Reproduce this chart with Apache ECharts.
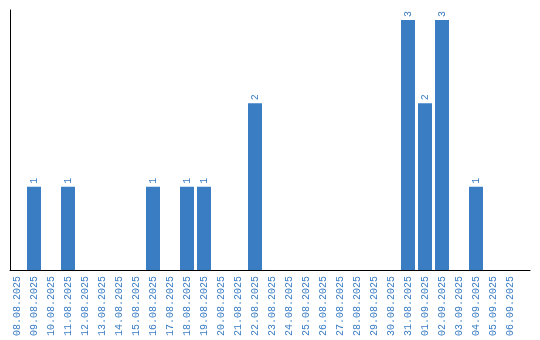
<!DOCTYPE html>
<html><head><meta charset="utf-8">
<script src="https://cdn.jsdelivr.net/npm/echarts@6/dist/echarts.min.js"></script>
<style>html,body{margin:0;padding:0;background:#fff}#c{width:540px;height:340px}</style>
</head><body><div id="c"></div>
<script>
var categories = ["08.08.2025","09.08.2025","10.08.2025","11.08.2025","12.08.2025","13.08.2025","14.08.2025","15.08.2025","16.08.2025","17.08.2025","18.08.2025","19.08.2025","20.08.2025","21.08.2025","22.08.2025","23.08.2025","24.08.2025","25.08.2025","26.08.2025","27.08.2025","28.08.2025","29.08.2025","30.08.2025","31.08.2025","01.09.2025","02.09.2025","03.09.2025","04.09.2025","05.09.2025","06.09.2025"];
var counts = [0,1,0,1,0,0,0,0,1,0,1,1,0,0,2,0,0,0,0,0,0,0,0,3,2,3,0,1,0,0];

var blue = '#3b7dc3';
var chart = echarts.init(document.getElementById('c'));
chart.setOption({
  animation: false,
  grid: [
    {left: 8.5, right: 21.5, top: 10, bottom: 70},
    {left: 10, right: 10, top: 10, bottom: 70}
  ],
  xAxis: [
    {type: 'category', gridIndex: 0, data: categories,
     axisLine: {show: false}, axisTick: {show: false},
     axisLabel: {rotate: 90, interval: 0, margin: 6, color: blue,
       fontFamily: 'Liberation Mono', fontSize: 10}},
    {type: 'value', gridIndex: 1, min: 0, max: 1, splitLine: {show: false},
     axisTick: {show: false}, axisLabel: {show: false},
     axisLine: {show: true, lineStyle: {color: '#000', width: 1}}}
  ],
  yAxis: [
    {type: 'value', gridIndex: 0, min: 0, max: 3.12, show: false},
    {type: 'value', gridIndex: 1, min: 0, max: 1, splitLine: {show: false},
     axisTick: {show: false}, axisLabel: {show: false},
     axisLine: {show: true, lineStyle: {color: '#000', width: 1}}}
  ],
  series: [{
    type: 'bar', xAxisIndex: 0, yAxisIndex: 0,
    data: counts.map(function(v){ return v === 0 ? null : v; }),
    barWidth: 14,
    itemStyle: {color: blue},
    label: {show: true, position: 'top', rotate: 90, align: 'left', verticalAlign: 'middle',
      distance: 3, color: blue, fontFamily: 'Liberation Mono', fontSize: 10}
  }]
});
</script></body></html>
